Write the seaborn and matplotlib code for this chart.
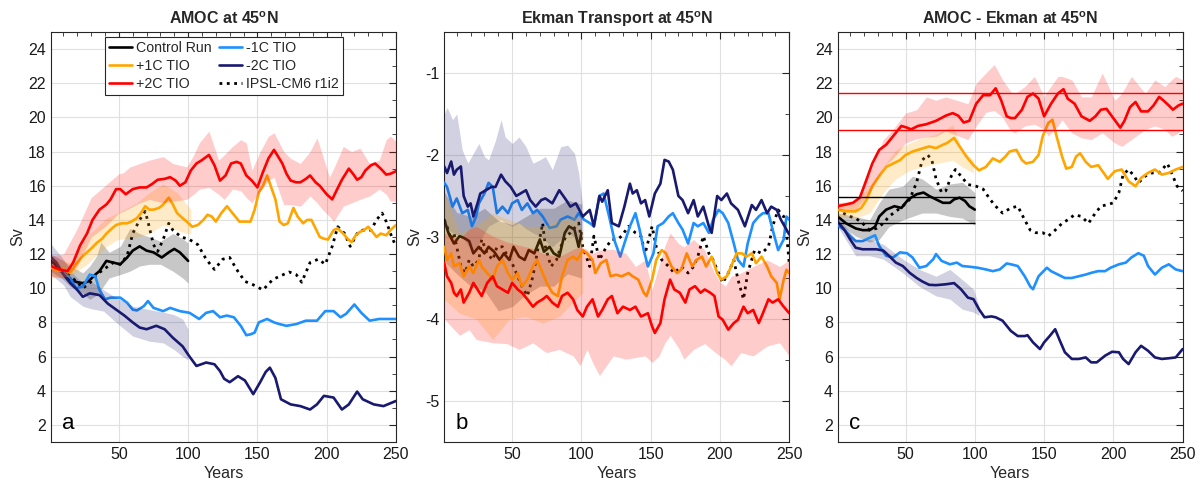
import matplotlib
matplotlib.use("Agg")
import matplotlib.pyplot as plt
import seaborn as sns
from matplotlib.ticker import MultipleLocator

# ---------------- data: panel a (AMOC at 45N) ----------------
ctrl_a_yr = [1, 4, 8, 12, 15, 20, 24, 28, 33, 36, 41, 46, 51, 56, 60, 65, 70, 75, 81, 86, 90, 94, 100]
ctrl_a = [11.6, 11.4, 11.0, 10.8, 10.5, 10.35, 10.3, 10.4, 10.8, 11.0, 11.6, 11.5, 11.4, 11.8, 12.2, 12.45,
          12.2, 12.1, 11.8, 12.1, 12.3, 12.1, 11.6]
ctrl_a_band_yr = [1, 10, 15, 24, 29, 34, 37, 43, 51, 58, 65, 72, 80, 89, 96, 100]
ctrl_a_hi = [12.0, 11.6, 11.3, 10.9, 11.3, 11.9, 12.7, 12.1, 12.45, 13.5, 13.2, 13.0, 12.75, 13.2, 12.9, 12.65]
ctrl_a_lo = [11.0, 10.5, 10.1, 9.7, 9.35, 9.6, 9.9, 10.6, 10.8, 11.0, 11.3, 11.4, 11.4, 11.0, 10.6, 10.3]

p1_a_yr = [1, 6, 10, 15, 19, 23, 27, 31, 34, 38, 41, 45, 48, 52, 56, 59, 63, 66, 69, 72, 75, 79, 82, 86, 89,
           92, 96, 99, 103, 107, 111, 114, 117, 120, 124, 128, 131, 134, 137, 141, 145, 148, 151, 154, 157,
           160, 163, 166, 169, 172, 176, 179, 183, 186, 189, 192, 195, 198, 201, 205, 208, 212, 215, 218,
           221, 224, 227, 230, 233, 236, 239, 243, 246, 250]
p1_a = [11.2, 11.0, 11.1, 10.9, 11.4, 11.8, 12.1, 12.4, 12.65, 12.9, 13.2, 13.5, 13.7, 13.8, 13.8, 13.9, 14.1,
        14.4, 14.8, 14.6, 14.6, 14.7, 14.9, 15.3, 14.9, 14.4, 14.1, 13.9, 13.6, 13.7, 14.0, 14.3, 14.2, 13.9,
        14.4, 14.8, 14.5, 14.2, 13.9, 13.9, 13.9, 14.6, 15.6, 16.0, 16.6, 15.9, 15.2, 13.9, 13.7, 13.8, 14.7,
        14.2, 13.8, 14.0, 14.0, 13.5, 13.0, 12.9, 12.85, 13.4, 13.5, 13.2, 12.9, 12.7, 13.1, 13.3, 13.4, 13.6,
        13.3, 13.0, 13.2, 13.1, 13.4, 13.7]
p1_a_band_yr = [1, 15, 27, 41, 49, 63, 72, 82, 92, 99, 102]
p1_a_hi = [11.8, 11.5, 13.0, 14.1, 14.4, 15.0, 15.6, 16.1, 15.6, 14.9, 14.6]
p1_a_lo = [10.6, 10.7, 11.4, 12.45, 12.85, 13.0, 13.2, 13.7, 13.4, 13.2, 13.2]

p2_a_yr = [1, 7, 13, 17, 22, 27, 31, 36, 41, 44, 48, 51, 55, 60, 65, 70, 74, 78, 83, 87, 91, 94, 98, 102, 106,
           110, 115, 119, 123, 127, 131, 135, 138, 142, 146, 150, 154, 158, 162, 165, 168, 171, 174, 178, 181,
           185, 188, 192, 195, 200, 204, 207, 211, 216, 219, 222, 225, 228, 232, 235, 239, 243, 246, 250]
p2_a = [11.3, 11.1, 11.0, 11.5, 12.5, 13.2, 14.0, 14.6, 14.9, 15.2, 15.8, 15.8, 15.5, 15.8, 15.9, 15.9, 16.1,
        16.35, 16.4, 16.5, 16.3, 16.0, 16.2, 16.9, 17.3, 17.5, 17.8, 17.2, 16.3, 16.6, 17.3, 17.4, 17.3, 16.6,
        16.3, 15.9, 16.8, 17.6, 18.1, 17.7, 17.3, 16.7, 16.3, 16.2, 16.2, 16.4, 16.6, 16.2, 16.0, 15.5, 15.2,
        15.7, 16.35, 17.0, 16.7, 16.35, 16.5, 16.9, 17.2, 17.3, 17.0, 16.65, 16.7, 16.85]
p2_a_band_yr = [1, 10, 20, 30, 40, 50, 53, 58, 65, 72, 82, 89, 99, 104, 108, 115, 122, 126, 132, 138, 142, 146,
                152, 158, 162, 169, 174, 181, 188, 193, 197, 202, 205, 212, 218, 224, 231, 238, 243, 246, 250]
p2_a_hi = [11.9, 12.0, 13.5, 15.3, 16.0, 16.7, 16.75, 17.1, 17.3, 17.5, 17.7, 17.3, 17.1, 17.8, 18.5, 19.2,
           17.5, 17.8, 18.3, 18.7, 18.5, 16.9, 18.0, 18.9, 19.1, 18.0, 17.6, 17.3, 18.0, 18.8, 17.8, 16.5, 17.0,
           18.3, 18.0, 18.2, 17.3, 17.5, 18.7, 18.9, 18.6]
p2_a_lo = [10.7, 10.6, 11.3, 13.0, 13.6, 14.4, 14.5, 14.7, 15.0, 15.2, 15.0, 15.1, 15.2, 15.5, 15.8, 15.9,
           15.5, 15.2, 15.8, 15.7, 15.3, 15.0, 15.7, 16.3, 16.5, 14.9, 14.9, 14.8, 15.4, 15.0, 14.6, 14.2, 13.9,
           14.8, 15.0, 15.2, 15.4, 15.8, 15.5, 15.1, 15.1]

m1_a_yr = [1, 5, 10, 15, 19, 24, 29, 33, 36, 40, 44, 51, 56, 60, 63, 68, 71, 75, 82, 87, 94, 101, 108, 113, 118,
           123, 128, 133, 138, 142, 145, 148, 151, 154, 157, 162, 166, 171, 178, 185, 193, 199, 205, 210, 214,
           220, 225, 231, 238, 246, 250]
m1_a = [11.3, 11.1, 10.9, 10.6, 10.0, 10.1, 10.8, 10.7, 9.9, 9.35, 9.45, 9.45, 9.15, 8.75, 8.7, 8.95, 9.25,
        8.85, 8.66, 8.85, 8.66, 8.56, 8.2, 8.56, 8.66, 8.3, 8.4, 8.3, 7.8, 7.25, 7.3, 7.4, 8.0, 8.1, 8.2, 8.0,
        7.9, 7.8, 7.9, 8.1, 8.1, 8.66, 8.66, 8.3, 8.5, 9.05, 8.56, 8.1, 8.2, 8.2, 8.2]

m2_a_yr = [1, 5, 10, 15, 20, 24, 29, 36, 42, 48, 54, 60, 65, 70, 77, 83, 89, 96, 101, 106, 113, 119, 123, 126,
           130, 136, 141, 147, 152, 156, 159, 163, 167, 174, 181, 188, 193, 198, 205, 211, 216, 222, 226, 234,
           241, 250]
m2_a = [11.8, 11.5, 10.8, 10.3, 9.9, 9.5, 9.7, 9.6, 9.1, 8.75, 8.4, 8.0, 7.7, 7.6, 7.8, 7.6, 7.1, 6.6, 6.0,
        5.45, 5.65, 5.55, 5.15, 4.7, 4.5, 4.85, 4.6, 3.8, 4.5, 5.1, 5.35, 4.75, 3.5, 3.2, 3.1, 2.9, 3.2, 3.7,
        3.6, 2.9, 3.2, 3.95, 3.5, 3.2, 3.1, 3.4]
m2_a_band_yr = [1, 10, 15, 24, 30, 39, 48, 60, 72, 82, 90, 96, 100]
m2_a_hi = [12.6, 11.7, 11.0, 10.3, 10.4, 9.9, 9.45, 8.95, 8.75, 8.6, 8.45, 8.2, 7.6]
m2_a_lo = [10.8, 10.2, 9.5, 8.95, 8.8, 8.66, 8.0, 7.2, 6.9, 6.8, 6.4, 6.0, 5.8]

ipsl_a_yr = [4, 10, 15, 20, 24, 29, 34, 39, 46, 51, 56, 60, 65, 69, 71, 75, 78, 82, 86, 89, 95, 101, 107, 113,
             119, 125, 130, 135, 141, 147, 154, 161, 166, 173, 178, 182, 188, 194, 199, 204, 208, 213, 217, 222,
             226, 232, 236, 240, 243, 247, 250]
ipsl_a = [11.3, 11.0, 10.7, 10.35, 10.0, 10.3, 10.8, 11.1, 11.5, 11.4, 11.9, 13.2, 14.0, 14.5, 13.9, 12.55,
          12.15, 12.85, 13.8, 13.4, 13.0, 12.85, 12.55, 11.7, 11.1, 11.7, 11.8, 11.1, 10.4, 10.2, 9.9, 10.5,
          10.7, 10.95, 10.8, 10.35, 11.5, 11.7, 11.4, 12.45, 13.6, 13.2, 12.45, 13.2, 13.4, 13.4, 14.0, 14.4,
          13.9, 13.0, 12.45]

# ---------------- data: panel b (Ekman transport) ----------------
ctrl_b_yr = [1, 4, 8, 12, 15, 19, 22, 26, 30, 33, 37, 41, 44, 48, 51, 55, 59, 62, 66, 70, 73, 77, 80, 84, 88,
             91, 95, 98, 100]
ctrl_b = [-2.79, -2.95, -3.08, -2.99, -3.01, -3.05, -3.2, -3.12, -3.2, -3.12, -3.18, -3.28, -3.2, -3.28, -3.12,
          -3.24, -3.28, -3.16, -3.2, -3.03, -3.18, -3.12, -3.2, -3.24, -2.95, -2.87, -2.91, -3.12, -2.95]
ctrl_b_band_yr = [1, 10, 20, 30, 40, 50, 60, 70, 80, 90, 100]
ctrl_b_hi = [-2.45, -2.7, -2.75, -2.65, -2.8, -2.85, -2.75, -2.65, -2.65, -2.55, -2.6]
ctrl_b_lo = [-3.3, -3.45, -3.6, -3.65, -3.9, -3.85, -3.7, -3.6, -3.6, -3.45, -3.5]

p1_b_yr = [1, 3, 6, 8, 12, 15, 19, 22, 26, 28, 32, 36, 39, 43, 47, 50, 54, 57, 61, 65, 68, 72, 75, 79, 83, 86,
           90, 94, 97, 101, 104, 108, 110, 114, 118, 121, 125, 129, 134, 137, 141, 145, 147, 151, 154, 158, 161,
           165, 169, 172, 176, 180, 183, 187, 190, 194, 198, 201, 205, 208, 212, 216, 219, 223, 226, 230, 234,
           237, 241, 243, 246, 248, 250]
p1_b = [-3.12, -3.28, -3.2, -3.36, -3.32, -3.48, -3.36, -3.44, -3.28, -3.36, -3.44, -3.52, -3.36, -3.28, -3.44,
        -3.52, -3.44, -3.6, -3.52, -3.36, -3.28, -3.44, -3.56, -3.68, -3.72, -3.48, -3.28, -3.24, -3.28, -3.16,
        -3.2, -3.28, -3.44, -3.32, -3.28, -3.48, -3.46, -3.48, -3.44, -3.48, -3.52, -3.68, -3.72, -3.52, -3.28,
        -3.16, -3.2, -3.36, -3.44, -3.4, -3.2, -3.36, -3.28, -3.24, -3.36, -3.24, -3.44, -3.52, -3.48, -3.36,
        -3.2, -3.2, -3.24, -3.2, -3.32, -3.24, -3.36, -3.48, -3.56, -3.76, -3.52, -3.4, -3.44]
p1_b_band_yr = [1, 12, 24, 36, 48, 60, 72, 84, 96, 101]
p1_b_hi = [-2.47, -2.95, -2.87, -2.71, -2.79, -2.87, -2.87, -2.79, -2.75, -2.95]
p1_b_lo = [-3.76, -3.93, -4.0, -4.25, -4.0, -3.97, -4.05, -3.97, -3.76, -3.68]

p2_b_yr = [1, 3, 6, 8, 10, 13, 15, 19, 22, 25, 28, 32, 36, 39, 43, 47, 50, 54, 57, 61, 65, 68, 72, 75, 79, 83,
           86, 90, 94, 97, 101, 104, 108, 112, 115, 119, 122, 126, 130, 135, 139, 143, 148, 151, 153, 157, 160,
           164, 167, 171, 175, 178, 182, 186, 189, 193, 196, 199, 202, 206, 210, 213, 217, 220, 224, 228, 231,
           235, 238, 242, 246, 248, 250]
p2_b = [-3.32, -3.48, -3.56, -3.68, -3.72, -3.64, -3.8, -3.68, -3.56, -3.64, -3.72, -3.56, -3.48, -3.6, -3.64,
        -3.68, -3.56, -3.64, -3.68, -3.76, -3.85, -3.8, -3.76, -3.72, -3.8, -3.85, -3.72, -3.68, -3.76, -3.89,
        -3.97, -3.85, -3.76, -3.97, -3.89, -3.76, -3.72, -3.93, -3.85, -3.89, -3.85, -3.97, -3.93, -4.09, -4.17,
        -4.05, -3.76, -3.52, -3.64, -3.68, -3.8, -3.64, -3.6, -3.68, -3.64, -3.68, -3.72, -3.97, -4.01, -4.13,
        -4.05, -4.01, -3.85, -3.93, -3.89, -4.05, -3.93, -3.76, -3.8, -3.76, -3.85, -3.89, -3.93]
p2_b_band_yr = [1, 12, 19, 24, 36, 46, 55, 65, 72, 75, 84, 94, 99, 104, 108, 113, 123, 132, 139, 146, 151, 156,
                160, 164, 170, 174, 181, 189, 196, 200, 204, 208, 215, 224, 234, 243, 250]
p2_b_hi = [-2.95, -3.03, -2.9, -2.87, -2.99, -3.06, -3.1, -3.14, -3.2, -3.21, -3.24, -3.15, -3.12, -3.15, -3.2,
           -3.16, -3.15, -3.2, -3.36, -3.28, -3.64, -3.35, -3.12, -2.95, -3.08, -3.12, -3.03, -3.16, -3.44, -3.55,
           -3.6, -3.48, -3.44, -3.36, -3.28, -3.36, -3.28]
p2_b_lo = [-4.0, -4.2, -4.13, -4.25, -4.29, -4.3, -4.37, -4.29, -4.38, -4.41, -4.37, -4.45, -4.57, -4.37, -4.53,
           -4.69, -4.45, -4.49, -4.47, -4.45, -4.53, -4.45, -4.3, -4.2, -4.35, -4.49, -4.37, -4.3, -4.4, -4.45,
           -4.5, -4.57, -4.41, -4.45, -4.33, -4.29, -4.45]

m1_b_yr = [1, 3, 7, 10, 14, 18, 21, 24, 26, 30, 33, 36, 39, 43, 47, 50, 54, 57, 61, 65, 68, 72, 77, 82, 85, 90,
           95, 98, 102, 106, 109, 113, 116, 120, 124, 128, 131, 135, 139, 142, 145, 148, 152, 155, 159, 163, 166,
           170, 173, 177, 181, 184, 188, 192, 195, 199, 202, 206, 210, 213, 217, 220, 224, 228, 231, 235, 238,
           242, 246, 248, 250]
m1_b = [-2.34, -2.39, -2.63, -2.53, -2.71, -2.67, -2.87, -2.75, -2.59, -2.47, -2.34, -2.39, -2.71, -2.63, -2.71,
        -2.59, -2.55, -2.67, -2.59, -2.71, -2.67, -2.75, -2.89, -2.87, -2.79, -2.75, -2.79, -2.71, -2.79, -2.83,
        -2.87, -2.5, -2.47, -2.75, -3.05, -3.24, -3.08, -2.87, -2.71, -2.91, -3.16, -3.36, -3.2, -2.87, -2.83,
        -2.75, -2.71, -2.83, -2.91, -3.08, -2.83, -2.87, -2.83, -2.95, -2.79, -2.67, -2.71, -2.83, -3.08, -3.28,
        -3.36, -3.08, -2.83, -2.75, -2.71, -2.71, -2.91, -3.16, -3.03, -2.75, -2.79]

m2_b_yr = [1, 3, 6, 8, 10, 13, 15, 18, 20, 22, 25, 27, 31, 35, 38, 42, 45, 49, 53, 56, 60, 63, 67, 71, 74, 79,
           84, 89, 92, 96, 101, 106, 109, 113, 115, 119, 122, 127, 131, 135, 137, 140, 143, 146, 149, 153, 157,
           160, 163, 166, 170, 173, 177, 181, 184, 188, 192, 194, 198, 201, 205, 208, 213, 218, 223, 226, 230,
           234, 237, 241, 244, 248, 250]
m2_b = [-2.14, -2.22, -2.08, -2.24, -2.18, -2.14, -2.5, -2.63, -2.59, -2.75, -2.59, -2.47, -2.43, -2.39, -2.39,
        -2.24, -2.32, -2.39, -2.5, -2.47, -2.43, -2.55, -2.63, -2.55, -2.53, -2.59, -2.43, -2.55, -2.63, -2.59,
        -2.75, -2.67, -2.87, -2.5, -2.57, -2.43, -2.83, -2.87, -2.63, -2.35, -2.47, -2.43, -2.59, -2.55, -2.75,
        -2.47, -2.35, -2.06, -2.08, -2.18, -2.5, -2.55, -2.71, -2.55, -2.75, -2.63, -2.87, -2.95, -2.5, -2.55,
        -2.47, -2.59, -2.67, -2.87, -2.61, -2.67, -2.55, -2.71, -2.63, -2.67, -2.79, -2.91, -2.97]
m2_b_band_yr = [1, 3, 7, 10, 14, 18, 22, 26, 30, 33, 38, 42, 45, 50, 55, 60, 65, 70, 74, 79, 85, 90, 95, 98, 101]
m2_b_hi = [-1.5, -1.42, -1.57, -1.5, -1.94, -2.1, -1.98, -1.86, -2.02, -2.06, -1.82, -1.57, -1.78, -1.86, -1.78,
           -1.9, -2.1, -2.06, -2.02, -2.18, -1.9, -1.88, -1.98, -2.22, -2.63]
m2_b_lo = [-2.87, -2.9, -2.95, -2.97, -2.99, -3.1, -3.2, -3.08, -2.95, -2.87, -2.82, -2.79, -2.83, -2.87, -2.83,
           -2.9, -2.95, -2.99, -3.05, -3.12, -3.03, -2.95, -3.0, -3.08, -3.03]

ipsl_b_yr = [1, 3, 6, 8, 10, 13, 16, 19, 22, 26, 28, 32, 36, 39, 43, 47, 50, 54, 57, 61, 65, 68, 72, 74, 78, 82,
             85, 89, 92, 96, 98, 101, 106, 109, 113, 118, 122, 126, 129, 134, 139, 143, 146, 151, 154, 158, 163,
             167, 172, 177, 181, 184, 188, 192, 195, 199, 202, 206, 210, 213, 217, 220, 225, 230, 235, 238, 242,
             246, 248, 250]
ipsl_b = [-2.79, -2.87, -3.03, -2.95, -3.12, -3.36, -3.44, -3.28, -3.36, -3.28, -3.03, -3.2, -3.28, -3.12, -3.12,
          -3.24, -3.32, -3.48, -3.6, -3.72, -3.48, -3.2, -2.83, -3.12, -3.36, -3.28, -3.12, -2.99, -2.95, -2.87,
          -2.83, -3.12, -3.36, -2.99, -3.28, -3.12, -3.03, -3.03, -2.99, -2.87, -2.95, -2.99, -3.2, -2.87, -3.12,
          -3.28, -3.36, -3.44, -3.36, -3.44, -3.36, -3.24, -2.99, -3.2, -3.28, -3.44, -3.56, -3.44, -3.28, -3.52,
          -3.76, -3.44, -3.16, -3.2, -3.12, -2.87, -2.67, -2.75, -2.95, -3.32]

# ---------------- data: panel c (AMOC - Ekman) ----------------
ctrl_c_yr = [1, 7, 14, 19, 24, 28, 31, 36, 42, 47, 52, 58, 63, 67, 72, 77, 82, 85, 89, 93, 96, 100]
ctrl_c = [14.2, 13.8, 13.5, 13.4, 13.4, 13.6, 14.2, 14.6, 14.8, 14.7, 15.2, 15.5, 15.6, 15.4, 15.2, 15.0, 15.0,
          15.2, 15.3, 15.1, 14.8, 14.6]
ctrl_c_band_yr = [1, 14, 24, 31, 38, 48, 55, 62, 72, 82, 91, 100]
ctrl_c_hi = [14.4, 14.2, 14.0, 15.0, 15.8, 15.97, 16.56, 16.4, 15.8, 16.1, 16.2, 15.6]
ctrl_c_lo = [13.8, 13.05, 12.7, 12.86, 13.6, 14.0, 14.2, 14.4, 14.4, 14.2, 14.1, 13.7]
ctrl_c_range = [13.84, 15.32]

p1_c_yr = [1, 7, 14, 18, 22, 26, 31, 36, 41, 46, 50, 55, 61, 67, 72, 77, 80, 85, 89, 94, 99, 103, 108, 113, 118,
           122, 125, 130, 134, 137, 142, 146, 149, 153, 156, 159, 163, 166, 170, 173, 176, 180, 184, 189, 193,
           196, 201, 206, 211, 216, 220, 225, 230, 235, 240, 245, 250]
p1_c = [14.6, 14.5, 14.5, 14.7, 15.2, 15.97, 16.56, 17.1, 17.3, 17.5, 17.8, 18.0, 18.15, 18.3, 18.2, 18.4, 18.5,
        18.8, 18.3, 17.7, 17.2, 16.9, 17.1, 17.6, 17.4, 17.7, 18.0, 18.1, 17.5, 17.3, 17.4, 17.8, 18.9, 19.67,
        19.86, 18.9, 17.7, 17.0, 17.1, 17.7, 17.9, 17.4, 17.1, 17.2, 16.75, 16.4, 16.85, 16.95, 16.26, 15.97,
        16.46, 16.75, 16.95, 16.65, 16.75, 16.95, 17.1]
p1_c_band_yr = [1, 14, 24, 34, 43, 53, 62, 72, 79, 84, 91, 99]
p1_c_hi = [15.0, 15.1, 15.97, 17.1, 18.1, 18.5, 18.8, 19.0, 19.3, 19.57, 18.1, 17.5]
p1_c_lo = [14.2, 14.1, 14.4, 15.6, 16.4, 16.9, 17.1, 17.3, 17.4, 17.5, 17.1, 16.75]

p2_c_yr = [1, 7, 12, 17, 22, 26, 31, 36, 41, 47, 51, 54, 59, 65, 72, 79, 84, 88, 92, 96, 101, 106, 111, 115,
           119, 123, 126, 129, 134, 138, 142, 146, 150, 155, 160, 164, 167, 172, 177, 183, 187, 191, 195, 199,
           205, 208, 212, 216, 220, 225, 229, 233, 236, 240, 243, 247, 250]
p2_c = [14.8, 14.9, 15.0, 15.3, 16.4, 17.3, 18.1, 18.4, 18.9, 19.5, 19.4, 19.3, 19.5, 19.6, 19.8, 20.1, 20.25,
        20.1, 19.7, 19.8, 20.8, 21.3, 21.3, 21.7, 21.0, 20.06, 19.96, 19.96, 20.45, 21.2, 21.4, 21.1, 20.06,
        20.8, 21.4, 21.65, 21.1, 20.8, 20.06, 19.8, 20.06, 20.45, 20.5, 20.06, 19.4, 19.8, 20.6, 20.9, 20.35,
        20.35, 20.7, 21.2, 21.0, 20.7, 20.45, 20.7, 20.8]
p2_c_band_yr = [1, 14, 24, 34, 41, 50, 58, 65, 72, 79, 87, 95, 101, 108, 114, 120, 126, 129, 136, 143, 150, 153,
                160, 163, 170, 177, 184, 192, 201, 206, 213, 223, 230, 237, 242, 245, 250]
p2_c_hi = [15.0, 15.1, 16.75, 18.7, 19.3, 20.25, 20.45, 21.2, 21.0, 21.2, 21.0, 20.8, 22.0, 22.6, 23.1, 22.2,
           21.5, 21.4, 21.8, 22.4, 21.2, 21.6, 22.4, 22.4, 22.2, 21.2, 21.2, 22.6, 21.0, 21.4, 22.4, 21.4, 22.2,
           21.8, 22.2, 22.4, 22.2]
p2_c_lo = [14.6, 14.6, 15.6, 17.1, 17.6, 18.5, 18.75, 18.85, 18.9, 19.2, 18.95, 18.7, 19.5, 20.3, 20.4, 20.0,
           19.2, 19.1, 19.5, 19.6, 19.3, 18.9, 19.5, 19.86, 19.1, 18.8, 18.7, 19.1, 18.5, 18.3, 18.7, 19.3, 19.5,
           19.3, 18.9, 19.0, 19.3]
p2_c_range = [19.26, 21.42]

m1_c_yr = [1, 6, 10, 14, 19, 24, 28, 31, 36, 41, 46, 51, 55, 60, 65, 70, 72, 76, 82, 87, 91, 96, 102, 108, 113,
           118, 123, 126, 131, 136, 140, 142, 146, 152, 155, 160, 165, 170, 175, 180, 184, 189, 194, 198, 204,
           209, 213, 218, 222, 225, 230, 235, 240, 245, 250]
m1_c = [13.7, 13.4, 13.05, 12.76, 12.76, 12.95, 13.1, 12.47, 11.9, 11.8, 12.1, 12.05, 11.8, 11.2, 11.3, 11.7,
        12.0, 11.6, 11.4, 11.5, 11.3, 11.26, 11.2, 11.1, 11.0, 11.1, 11.45, 11.4, 11.3, 10.7, 10.1, 9.94, 10.7,
        11.2, 11.0, 10.8, 10.6, 10.6, 10.7, 10.8, 10.9, 11.0, 11.0, 11.2, 11.4, 11.5, 11.8, 12.05, 11.9, 11.3,
        10.8, 11.2, 11.4, 11.1, 11.0]

m2_c_yr = [1, 6, 10, 14, 19, 24, 29, 34, 38, 43, 48, 53, 58, 62, 67, 72, 79, 85, 90, 95, 99, 103, 107, 112, 115,
           120, 126, 131, 136, 138, 142, 147, 150, 154, 158, 161, 165, 170, 175, 180, 184, 188, 194, 199, 204,
           207, 211, 216, 220, 225, 230, 235, 240, 245, 250]
m2_c = [13.9, 13.4, 12.86, 12.37, 12.28, 12.28, 12.28, 12.2, 11.9, 11.5, 11.3, 10.9, 10.6, 10.4, 10.2, 10.18,
        10.23, 10.3, 9.94, 9.45, 9.36, 8.77, 8.3, 8.35, 8.3, 8.1, 7.5, 7.2, 7.2, 7.25, 6.83, 6.44, 6.83, 7.2,
        7.6, 7.0, 6.25, 5.86, 5.86, 5.95, 5.66, 5.66, 6.05, 6.28, 6.25, 5.86, 5.56, 6.25, 6.63, 6.34, 5.95,
        5.86, 5.9, 5.95, 6.44]
m2_c_band_yr = [1, 14, 24, 34, 48, 60, 72, 82, 91, 99, 103]
m2_c_hi = [14.2, 12.86, 12.86, 12.57, 11.7, 11.1, 10.7, 11.1, 10.5, 9.94, 8.97]
m2_c_lo = [13.6, 11.9, 11.9, 11.7, 10.9, 10.1, 9.55, 9.36, 8.77, 8.6, 8.4]

ipsl_c_yr = [5, 10, 14, 19, 24, 29, 34, 38, 43, 48, 53, 58, 62, 66, 69, 72, 76, 79, 83, 86, 90, 95, 101, 106,
             111, 115, 120, 126, 131, 136, 140, 144, 149, 153, 158, 163, 167, 172, 177, 182, 187, 191, 196, 200,
             204, 207, 211, 215, 218, 223, 228, 233, 239, 242, 246, 250]
ipsl_c = [14.4, 14.2, 14.1, 13.8, 13.4, 13.5, 13.8, 14.2, 14.5, 14.8, 15.2, 16.2, 17.5, 17.8, 17.5, 16.4, 15.6,
          15.7, 16.56, 16.95, 16.56, 16.07, 15.97, 15.8, 15.2, 14.8, 14.4, 14.7, 14.8, 14.0, 13.4, 13.25, 13.25,
          13.05, 13.4, 13.8, 14.0, 14.3, 14.2, 13.8, 14.4, 14.8, 14.9, 15.0, 15.6, 16.65, 16.95, 16.56, 16.17,
          16.56, 16.75, 16.75, 17.3, 16.75, 15.97, 15.7]

labels = ["Control Run", "+1C TIO", "+2C TIO", "-1C TIO", "-2C TIO", "IPSL-CM6 r1i2"]
titles = [r"AMOC at 45$^{\mathbf{o}}$N", r"Ekman Transport at 45$^{\mathbf{o}}$N",
          r"AMOC - Ekman at 45$^{\mathbf{o}}$N"]
panel_letters = ["a", "b", "c"]

# ---------------- style ----------------
sns.set_style("white")
plt.rcParams["font.family"] = ["Liberation Sans", "DejaVu Sans"]
plt.rcParams["mathtext.fontset"] = "custom"
plt.rcParams["mathtext.rm"] = "Liberation Sans"
plt.rcParams["mathtext.bf"] = "Liberation Sans:bold"
plt.rcParams["axes.unicode_minus"] = False

C_CTRL = "black"
C_P1 = (1.0, 0.647, 0.0)
C_P2 = (1.0, 0.0, 0.0)
C_M1 = (0.118, 0.565, 1.0)
C_M2 = (0.098, 0.098, 0.44)
AX_C = (0.15, 0.15, 0.15)
LW = 1.9

fig = plt.figure(figsize=(12.02, 4.88), dpi=100)
lefts = [0.0424, 0.3696, 0.6969]
axes = [fig.add_axes([l, 0.0943, 0.2870, 0.8402]) for l in lefts]


def line(ax, x, y, color, ls="-", lw=LW, z=3):
    sns.lineplot(x=x, y=y, ax=ax, color=color, linestyle=ls, linewidth=lw, zorder=z, legend=False)
    return ax.lines[-1]


def band(ax, x, lo, hi, color, alpha, z=3):
    ax.fill_between(x, lo, hi, color=color, alpha=alpha, linewidth=0, zorder=z)


panels = [
    dict(ipsl=(ipsl_a_yr, ipsl_a), ctrl=(ctrl_a_yr, ctrl_a), ctrl_band=(ctrl_a_band_yr, ctrl_a_lo, ctrl_a_hi),
         m1=(m1_a_yr, m1_a), m2=(m2_a_yr, m2_a), m2_band=(m2_a_band_yr, m2_a_lo, m2_a_hi),
         p1=(p1_a_yr, p1_a), p1_band=(p1_a_band_yr, p1_a_lo, p1_a_hi),
         p2=(p2_a_yr, p2_a), p2_band=(p2_a_band_yr, p2_a_lo, p2_a_hi)),
    dict(ipsl=(ipsl_b_yr, ipsl_b), ctrl=(ctrl_b_yr, ctrl_b), ctrl_band=(ctrl_b_band_yr, ctrl_b_lo, ctrl_b_hi),
         m1=(m1_b_yr, m1_b), m2=(m2_b_yr, m2_b), m2_band=(m2_b_band_yr, m2_b_lo, m2_b_hi),
         p1=(p1_b_yr, p1_b), p1_band=(p1_b_band_yr, p1_b_lo, p1_b_hi),
         p2=(p2_b_yr, p2_b), p2_band=(p2_b_band_yr, p2_b_lo, p2_b_hi)),
    dict(ipsl=(ipsl_c_yr, ipsl_c), ctrl=(ctrl_c_yr, ctrl_c), ctrl_band=(ctrl_c_band_yr, ctrl_c_lo, ctrl_c_hi),
         m1=(m1_c_yr, m1_c), m2=(m2_c_yr, m2_c), m2_band=(m2_c_band_yr, m2_c_lo, m2_c_hi),
         p1=(p1_c_yr, p1_c), p1_band=(p1_c_band_yr, p1_c_lo, p1_c_hi),
         p2=(p2_c_yr, p2_c), p2_band=(p2_c_band_yr, p2_c_lo, p2_c_hi)),
]

handles = None
for i, (ax, d) in enumerate(zip(axes, panels)):
    h_ipsl = line(ax, *d["ipsl"], color="black", ls=":", lw=2.0, z=2)
    h_ctrl = line(ax, *d["ctrl"], color=C_CTRL, z=3)
    band(ax, *d["ctrl_band"], color="black", alpha=0.22, z=3)
    h_m1 = line(ax, *d["m1"], color=C_M1, z=3)
    h_m2 = line(ax, *d["m2"], color=C_M2, z=3)
    band(ax, *d["m2_band"], color=C_M2, alpha=0.2, z=3)
    h_p1 = line(ax, *d["p1"], color=C_P1, z=3)
    band(ax, *d["p1_band"], color=C_P1, alpha=0.22, z=3)
    h_p2 = line(ax, *d["p2"], color=C_P2, z=3)
    band(ax, *d["p2_band"], color=C_P2, alpha=0.2, z=3)
    if i == 0:
        handles = [h_ctrl, h_p1, h_p2, h_m1, h_m2, h_ipsl]

    if i == 2:
        ax.hlines(ctrl_c_range, ctrl_c_yr[0], ctrl_c_yr[-1], colors="black", linewidth=1.0, zorder=4)
        ax.hlines(p2_c_range, 1, 250, colors=C_P2, linewidth=1.0, zorder=4)

    ax.set_xlim(1, 250)
    if i == 1:
        ax.set_ylim(-5.5, -0.5)
        ax.yaxis.set_major_locator(MultipleLocator(1))
        ax.yaxis.set_minor_locator(MultipleLocator(0.5))
    else:
        ax.set_ylim(1, 25)
        ax.yaxis.set_major_locator(MultipleLocator(2))
        ax.yaxis.set_minor_locator(MultipleLocator(1))
    ax.set_xticks([50, 100, 150, 200, 250])
    ax.xaxis.set_minor_locator(MultipleLocator(10))
    ax.grid(True, which="major", color=(0.88, 0.88, 0.88), linewidth=0.8, zorder=0)
    ax.set_axisbelow(True)
    ax.tick_params(which="both", direction="in", top=True, right=True, colors=AX_C, labelcolor=(0.1, 0.1, 0.1),
                   labelsize=11.5)
    ax.tick_params(which="major", length=5, width=0.8)
    ax.tick_params(which="minor", length=3, width=0.6)
    for s in ax.spines.values():
        s.set_visible(True)
        s.set_color(AX_C)
        s.set_linewidth(0.8)
    ax.set_xlabel("Years", fontsize=11.5, labelpad=3)
    ax.set_ylabel("Sv", fontsize=11.5, labelpad=2)
    ax.set_title(titles[i], fontsize=11.5, fontweight="bold", pad=6)
    ax.text(0.033, 0.02, panel_letters[i], transform=ax.transAxes, fontsize=16, ha="left", va="bottom",
            color="black", zorder=6)

leg = axes[0].legend(handles, labels, ncol=2, loc="upper left", bbox_to_anchor=(0.157, 0.988), frameon=True,
                     fancybox=False, edgecolor=AX_C, framealpha=1.0, fontsize=10.2, handlelength=1.6,
                     handletextpad=0.3, columnspacing=0.5, labelspacing=0.28, borderpad=0.3, borderaxespad=0.0)
leg.get_frame().set_linewidth(0.8)
leg.set_zorder(10)

fig.savefig("out.png", dpi=100)
